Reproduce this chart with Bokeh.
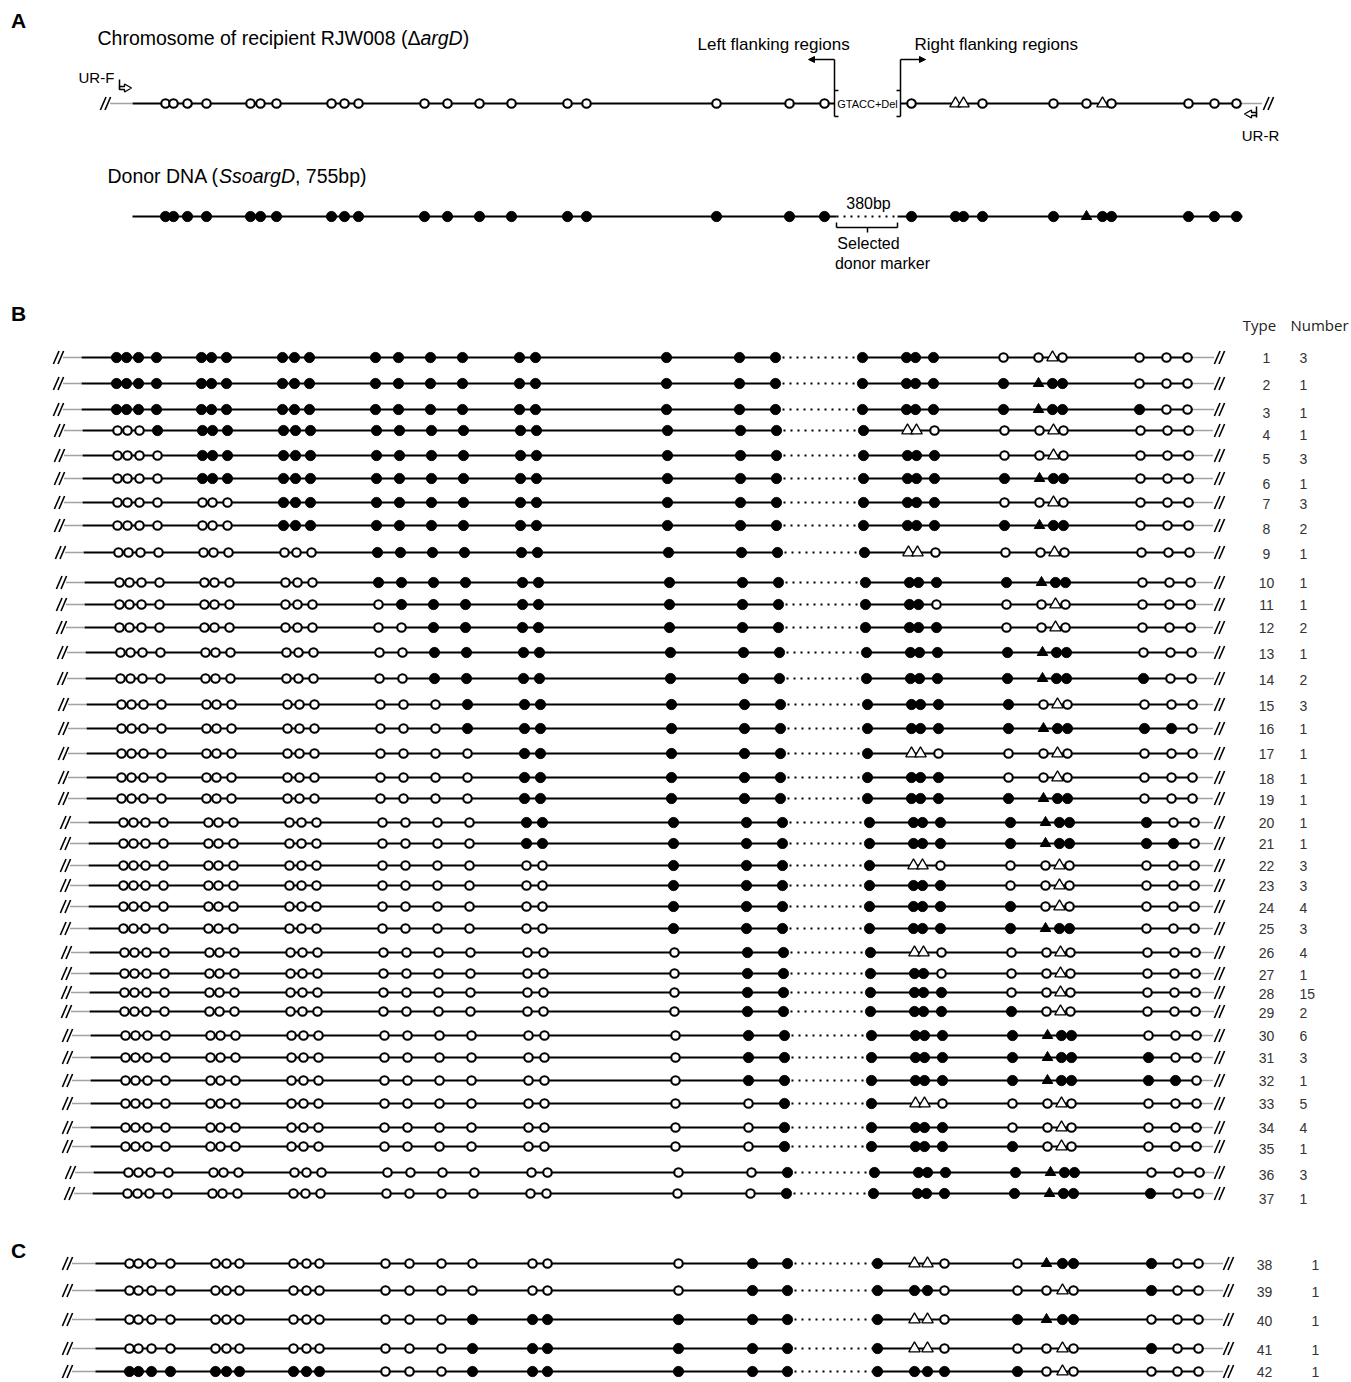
from bokeh.plotting import figure
from bokeh.models import ColumnDataSource, Range1d, Arrow, NormalHead
from bokeh.embed import file_html
from bokeh.resources import INLINE
from bokeh.core.properties import value, field

# ---------------- data ----------------
# genotype per marker site: D = donor allele, R = recipient allele
# groups: 19 sites left of the selected marker | 11 sites right of it
recipient_genotype = "RRRR RRR RRR RRRR RR R R R|R RRR R RRR RRR"
donor_genotype = "DDDD DDD DDD DDDD DD D D D|D DDD D DDD DDD"

type_B = [1, 2, 3, 4, 5, 6, 7, 8, 9, 10, 11, 12, 13, 14, 15, 16, 17, 18, 19,
          20, 21, 22, 23, 24, 25, 26, 27, 28, 29, 30, 31, 32, 33, 34, 35, 36, 37]
count_B = [3, 1, 1, 1, 3, 1, 3, 2, 1, 1, 1, 2, 1, 2, 3, 1, 1, 1, 1,
           1, 1, 3, 3, 4, 3, 4, 1, 15, 2, 6, 3, 1, 5, 4, 1, 3, 1]
genotype_B = [
    "DDDD DDD DDD DDDD DD D D D|D DDD R RRR RRR",  # 1
    "DDDD DDD DDD DDDD DD D D D|D DDD D DDD RRR",  # 2
    "DDDD DDD DDD DDDD DD D D D|D DDD D DDD DRR",  # 3
    "RRRD DDD DDD DDDD DD D D D|D RRR R RRR RRR",  # 4
    "RRRR DDD DDD DDDD DD D D D|D DDD R RRR RRR",  # 5
    "RRRR DDD DDD DDDD DD D D D|D DDD D DDD RRR",  # 6
    "RRRR RRR DDD DDDD DD D D D|D DDD R RRR RRR",  # 7
    "RRRR RRR DDD DDDD DD D D D|D DDD D DDD RRR",  # 8
    "RRRR RRR RRR DDDD DD D D D|D RRR R RRR RRR",  # 9
    "RRRR RRR RRR DDDD DD D D D|D DDD D DDD RRR",  # 10
    "RRRR RRR RRR RDDD DD D D D|D DDR R RRR RRR",  # 11
    "RRRR RRR RRR RRDD DD D D D|D DDD R RRR RRR",  # 12
    "RRRR RRR RRR RRDD DD D D D|D DDD D DDD RRR",  # 13
    "RRRR RRR RRR RRDD DD D D D|D DDD D DDD DRR",  # 14
    "RRRR RRR RRR RRRD DD D D D|D DDD D RRR RRR",  # 15
    "RRRR RRR RRR RRRD DD D D D|D DDD D DDD DDR",  # 16
    "RRRR RRR RRR RRRR DD D D D|D RRR R RRR RRR",  # 17
    "RRRR RRR RRR RRRR DD D D D|D DDD R RRR RRR",  # 18
    "RRRR RRR RRR RRRR DD D D D|D DDD D DDD RRR",  # 19
    "RRRR RRR RRR RRRR DD D D D|D DDD D DDD DRR",  # 20
    "RRRR RRR RRR RRRR DD D D D|D DDD D DDD DDR",  # 21
    "RRRR RRR RRR RRRR RR D D D|D RRR R RRR RRR",  # 22
    "RRRR RRR RRR RRRR RR D D D|D DDD R RRR RRR",  # 23
    "RRRR RRR RRR RRRR RR D D D|D DDD D RRR RRR",  # 24
    "RRRR RRR RRR RRRR RR D D D|D DDD D DDD RRR",  # 25
    "RRRR RRR RRR RRRR RR R D D|D RRR R RRR RRR",  # 26
    "RRRR RRR RRR RRRR RR R D D|D DDR R RRR RRR",  # 27
    "RRRR RRR RRR RRRR RR R D D|D DDD R RRR RRR",  # 28
    "RRRR RRR RRR RRRR RR R D D|D DDD D RRR RRR",  # 29
    "RRRR RRR RRR RRRR RR R D D|D DDD D DDD RRR",  # 30
    "RRRR RRR RRR RRRR RR R D D|D DDD D DDD DRR",  # 31
    "RRRR RRR RRR RRRR RR R D D|D DDD D DDD DDR",  # 32
    "RRRR RRR RRR RRRR RR R R D|D RRR R RRR RRR",  # 33
    "RRRR RRR RRR RRRR RR R R D|D DDD R RRR RRR",  # 34
    "RRRR RRR RRR RRRR RR R R D|D DDD D RRR RRR",  # 35
    "RRRR RRR RRR RRRR RR R R D|D DDD D DDD RRR",  # 36
    "RRRR RRR RRR RRRR RR R R D|D DDD D DDD DRR",  # 37
]

type_C = [38, 39, 40, 41, 42]
count_C = [1, 1, 1, 1, 1]
genotype_C = [
    "RRRR RRR RRR RRRR RR R D D|D RRR R DDD DRR",  # 38
    "RRRR RRR RRR RRRR RR R D D|D DDR R RRR DRR",  # 39
    "RRRR RRR RRR RRRD DD D D D|D RRR D DDD RRR",  # 40
    "RRRR RRR RRR RRRD DD D D D|D RRR R RRR DRR",  # 41
    "DDDD DDD DDD RRRD DD D D D|D DDD D RRR RRR",  # 42
]

# sites whose allele is drawn as a triangle
recipient_triangle_sites = [20, 21, 25]
donor_triangle_sites = [24]

# ---------------- layout (page pixels) ----------------
site_x_A = [165, 173, 187, 206, 250, 260, 276, 331, 344, 358, 424, 447, 479, 511,
            567, 586, 716, 789, 824, 911, 955, 963, 982, 1053, 1086, 1102, 1111,
            1188, 1214, 1236]
site_x_B = [116, 126, 138, 156, 201, 211, 226, 282, 294, 309, 375, 398, 430, 462,
            519, 535, 666, 739, 775, 862, 906, 915, 933, 1003, 1038, 1052, 1062,
            1139, 1166, 1187]
site_x_C = [129, 138, 151, 170, 215, 226, 239, 293, 306, 319, 385, 409, 441, 472,
            532, 547, 678, 752, 787, 877, 914, 927, 944, 1017, 1046, 1062, 1073,
            1151, 1177, 1198]
row_y_B = [357, 383, 409, 430, 455, 478, 502, 525, 552, 582, 604, 627, 652, 678,
           704, 728, 753, 777, 798, 822, 843, 865, 885, 906, 928, 952, 973, 992,
           1011, 1035, 1057, 1080, 1103, 1127, 1146, 1172, 1193]
label_y_B = [357, 384, 412, 434, 458, 483, 503, 528, 553, 582, 604, 627, 653, 679,
             705, 728, 753, 778, 799, 822, 843, 865, 885, 907, 928, 952, 974, 993,
             1012, 1035, 1057, 1080, 1103, 1127, 1148, 1174, 1198]
row_dx_B = [0, 0, 0, 1, 1, 1, 1, 1, 2, 3, 3, 3, 4, 4, 5, 5, 5, 5, 5,
            7, 7, 7, 7, 7, 7, 8, 8, 8, 8, 9, 9, 9, 9, 9, 9, 12, 11]
row_y_C = [1263, 1290, 1319, 1348, 1371]
label_y_C = [1264, 1291, 1320, 1349, 1371]

W, H = 1350, 1381
p = figure(width=W, height=H, x_range=Range1d(0, W), y_range=Range1d(H, 0),
           output_backend="svg", toolbar_location=None, min_border=0,
           x_axis_location=None, y_axis_location=None)
p.xgrid.visible = False
p.ygrid.visible = False
p.outline_line_color = None
p.background_fill_color = "white"
p.border_fill_color = "white"

solid = dict(x0=[], y0=[], x1=[], y1=[])
middot = dict(x0=[], y0=[], x1=[], y1=[])
enddot = dict(x0=[], y0=[], x1=[], y1=[])
slash = dict(x0=[], y0=[], x1=[], y1=[])
thin = dict(x0=[], y0=[], x1=[], y1=[])
mk = dict(x=[], y=[], marker=[], fill=[], size=[], lw=[])


def seg(store, x0, y0, x1, y1):
    store["x0"].append(x0); store["y0"].append(y0)
    store["x1"].append(x1); store["y1"].append(y1)


def add_slash(cx, cy):
    for d in (-2.3, 2.3):
        seg(slash, cx + d - 2.8, cy + 6.5, cx + d + 2.8, cy - 6.5)


def alleles(g):
    return [c for c in g if c in "DR"]


def add_markers(xs, y, g):
    for i, c in enumerate(alleles(g)):
        if c == "R":
            if i in recipient_triangle_sites:
                m, f, s, lw = "triangle", "white", 11.5, 1.3
            else:
                m, f, s, lw = "circle", "white", 8.5, 2.1
        else:
            if i in donor_triangle_sites:
                m, f, s, lw = "triangle", "black", 10.5, 1.0
            else:
                m, f, s, lw = "circle", "black", 10.3, 0.8
        mk["x"].append(xs[i]); mk["y"].append(y); mk["marker"].append(m)
        mk["fill"].append(f); mk["size"].append(s); mk["lw"].append(lw)


# ---------------- Panel A ----------------
yr, yd = 103, 216
add_slash(105, yr)
seg(enddot, 110, yr, 132, yr)
seg(solid, 132, yr, 834, yr)
seg(solid, 900, yr, 1240, yr)
seg(enddot, 1240, yr, 1262, yr)
add_slash(1268, yr)
add_markers(site_x_A, yr, recipient_genotype)
# brackets + flanking arrows
seg(thin, 834, 59, 834, 116)
seg(thin, 834, 90, 838, 90)
seg(thin, 834, 116, 838, 116)
seg(thin, 900, 59, 900, 116)
seg(thin, 896, 90, 900, 90)
seg(thin, 896, 116, 900, 116)
p.add_layout(Arrow(end=NormalHead(size=6, line_color="black", fill_color="black"),
                   x_start=834, y_start=59, x_end=808, y_end=59, line_width=1.5))
p.add_layout(Arrow(end=NormalHead(size=6, line_color="black", fill_color="black"),
                   x_start=900, y_start=59, x_end=925, y_end=59, line_width=1.5))

seg(solid, 132, yd, 836, yd)
seg(middot, 836, yd, 897, yd)
seg(solid, 897, yd, 1242, yd)
add_markers(site_x_A, yd, donor_genotype)
# bracket under the selected marker
seg(thin, 836, 227, 897, 227)
seg(thin, 836, 222, 836, 227)
seg(thin, 897, 222, 897, 227)
seg(thin, 867, 227, 867, 232)

# primer arrows
seg(thin, 119, 79, 119, 89)
p.patch([119, 124, 124, 131, 124, 124, 119], [86, 86, 83.5, 87.5, 91.5, 89, 89],
        fill_color="white", line_color="black", line_width=1.3)
seg(thin, 1256, 106, 1256, 117)
p.patch([1256, 1251, 1251, 1244, 1251, 1251, 1256], [112, 112, 109.5, 113.5, 117.5, 115, 115],
        fill_color="white", line_color="black", line_width=1.3)

# ---------------- Panel B ----------------
for k in range(len(type_B)):
    dx = row_dx_B[k]
    y = row_y_B[k]
    xs = [s + dx for s in site_x_B]
    add_slash(58 + dx, y)
    seg(enddot, 63 + dx, y, 81 + dx, y)
    seg(solid, 81 + dx, y, xs[18], y)
    seg(middot, xs[18], y, xs[19], y)
    seg(solid, xs[19], y, xs[29] + 5, y)
    seg(enddot, xs[29] + 5, y, 1213, y)
    add_slash(1219, y)
    add_markers(xs, y, genotype_B[k])

# ---------------- Panel C ----------------
for k in range(len(type_C)):
    y = row_y_C[k]
    xs = site_x_C
    add_slash(67, y)
    seg(enddot, 72, y, 95, y)
    seg(solid, 95, y, xs[18], y)
    seg(middot, xs[18], y, xs[19], y)
    seg(solid, xs[19], y, xs[29] + 5, y)
    seg(enddot, xs[29] + 5, y, 1222, y)
    add_slash(1228, y)
    add_markers(xs, y, genotype_C[k])

p.segment("x0", "y0", "x1", "y1", source=ColumnDataSource(solid), line_color="black", line_width=2.2)
p.segment("x0", "y0", "x1", "y1", source=ColumnDataSource(middot), line_color="black",
          line_width=2, line_dash="2 5")
p.segment("x0", "y0", "x1", "y1", source=ColumnDataSource(enddot), line_color="#444444",
          line_width=1.4, line_dash="1 1")
p.segment("x0", "y0", "x1", "y1", source=ColumnDataSource(slash), line_color="black", line_width=1.6)
p.segment("x0", "y0", "x1", "y1", source=ColumnDataSource(thin), line_color="black", line_width=1.5)
p.scatter("x", "y", source=ColumnDataSource(mk), marker=field("marker"), fill_color=field("fill"),
          size=field("size"), line_width=field("lw"), line_color="black")

# ---------------- texts ----------------
ARIAL = {' ': 278, '(': 333, ')': 333, ',': 278, '-': 333, '+': 584, 'Δ': 668,
         'a': 556, 'b': 556, 'c': 500, 'd': 556, 'e': 556, 'f': 278, 'g': 556, 'h': 556,
         'i': 222, 'k': 500, 'l': 222, 'm': 833, 'n': 556, 'o': 556, 'p': 556, 'r': 333,
         's': 500, 't': 278, 'u': 556, 'y': 500, 'A': 667, 'C': 722, 'D': 722, 'F': 611,
         'G': 778, 'J': 500, 'N': 722, 'R': 722, 'S': 667, 'T': 611, 'W': 944}


def tw(s, size):
    return sum(ARIAL.get(c, 556) for c in s) / 1000.0 * size


SANS = value("Liberation Sans")


def txt(x, y, s, size, align="left", style="normal", color="black", font=SANS):
    p.text(x=[x], y=[y], text=[s], text_font=font, text_font_size=value(size),
           text_align=align, text_baseline="middle", text_font_style=style, text_color=color)


def rich(x, y, pieces, size):
    for s, style in pieces:
        txt(x, y, s, "%gpx" % size, style=style)
        x += tw(s, size)


txt(18, 20, "A", "21px", align="center", style="bold")
txt(18, 313, "B", "21px", align="center", style="bold")
txt(18, 1250, "C", "21px", align="center", style="bold")

rich(97, 37, [("Chromosome of recipient RJW008 (Δ", "normal"), ("argD", "italic"), (")", "normal")], 19.5)
rich(107, 175, [("Donor DNA (", "normal"), ("SsoargD", "italic"), (", 755bp)", "normal")], 19.5)
txt(697, 44, "Left flanking regions", "17px")
txt(914, 44, "Right flanking regions", "17px")
txt(867, 103, "GTACC+Del", "11px", align="center")
txt(78, 77, "UR-F", "15px")
txt(1260, 135, "UR-R", "15px", align="center")
txt(868, 203, "380bp", "16px", align="center")
txt(868, 243, "Selected", "16px", align="center")
txt(882, 263, "donor marker", "16px", align="center")

OPEN = value("Open Sans")
txt(1259, 324, "Type", "15px", align="center", color="#222222", font=OPEN)
txt(1319, 324, "Number", "15px", align="center", color="#222222", font=OPEN)

p.text(x=[1266] * len(type_B), y=label_y_B, text=[str(t) for t in type_B], text_font=SANS,
       text_font_size=value("14px"), text_align="center", text_baseline="middle", text_color="#333333")
p.text(x=[1299] * len(count_B), y=label_y_B, text=[str(c) for c in count_B], text_font=SANS,
       text_font_size=value("14px"), text_align="left", text_baseline="middle", text_color="#333333")
p.text(x=[1264] * len(type_C), y=label_y_C, text=[str(t) for t in type_C], text_font=SANS,
       text_font_size=value("14px"), text_align="center", text_baseline="middle", text_color="#333333")
p.text(x=[1315] * len(count_C), y=label_y_C, text=[str(c) for c in count_C], text_font=SANS,
       text_font_size=value("14px"), text_align="center", text_baseline="middle", text_color="#333333")

open("out.html", "w").write(file_html(p, INLINE))
